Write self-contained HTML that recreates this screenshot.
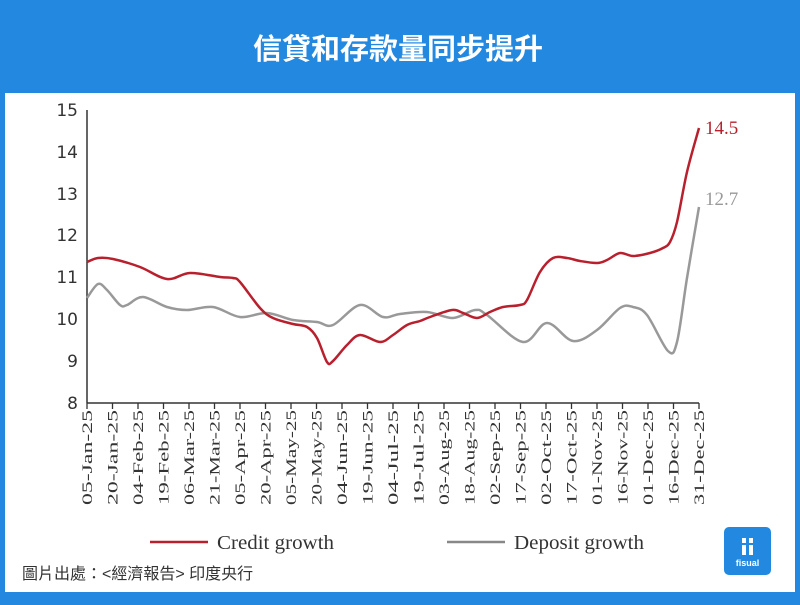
<!DOCTYPE html><html><head><meta charset="utf-8"><style>
body{margin:0;width:800px;height:600px;background:#2288e0;overflow:hidden;font-family:"Liberation Sans","Noto Sans CJK TC",sans-serif}
</style></head><body>
<svg width="800" height="600" xmlns="http://www.w3.org/2000/svg">
<rect width="800" height="600" fill="#2288e0"/>
<text x="398" y="59" text-anchor="middle" fill="#fff" font-size="29" font-weight="bold" font-family="Liberation Sans,Noto Sans CJK TC,sans-serif">信貸和存款量同步提升</text>
<rect x="5" y="93" width="790" height="499" fill="#fff"/>
<g stroke="#333" stroke-width="1.5" fill="none">
<line x1="87" y1="110" x2="87" y2="403"/>
<line x1="87" y1="403" x2="699" y2="403"/>
</g>
<g font-family="DejaVu Sans,sans-serif" font-size="17" fill="#333" text-anchor="end">
<text x="78" y="116">15</text><text x="78" y="158">14</text><text x="78" y="200">13</text><text x="78" y="241">12</text><text x="78" y="283">11</text><text x="78" y="325">10</text><text x="78" y="367">9</text><text x="78" y="409">8</text>
</g>
<g id="ticks" stroke="#333" stroke-width="1.3"></g>
<g id="labs" font-family="Liberation Serif,serif" font-size="15" fill="#333"></g>
<path id="dep" fill="none" stroke="#999" stroke-width="2.5" stroke-linejoin="round"/>
<path id="cre" fill="none" stroke="#b8202e" stroke-width="2.5" stroke-linejoin="round"/>
<text x="705" y="134" font-family="Liberation Serif,serif" font-size="19" fill="#b8202e">14.5</text>
<text x="705" y="205" font-family="Liberation Serif,serif" font-size="19" fill="#999">12.7</text>
<line x1="150" y1="542" x2="208" y2="542" stroke="#b8202e" stroke-width="2.5"/>
<text x="217" y="549" font-family="Liberation Serif,serif" font-size="20" fill="#333" textLength="117" lengthAdjust="spacingAndGlyphs">Credit growth</text>
<line x1="447" y1="542" x2="505" y2="542" stroke="#888" stroke-width="2.5"/>
<text x="514" y="549" font-family="Liberation Serif,serif" font-size="20" fill="#333" textLength="130" lengthAdjust="spacingAndGlyphs">Deposit growth</text>
<text x="22" y="579" font-size="16" fill="#333">圖片出處：&lt;經濟報告&gt; 印度央行</text>
<rect x="724" y="527" width="47" height="48" rx="5" fill="#2288e0"/>
<rect x="742" y="538" width="4" height="5" fill="#fff"/><rect x="749" y="538" width="4" height="5" fill="#fff"/>
<rect x="742" y="545" width="4" height="10" fill="#fff"/><rect x="749" y="545" width="4" height="10" fill="#fff"/>
<text x="747.5" y="566" text-anchor="middle" font-size="9" font-weight="bold" fill="#fff">fisual</text>
</svg>
<script>
var L=["05-Jan-25","20-Jan-25","04-Feb-25","19-Feb-25","06-Mar-25","21-Mar-25","05-Apr-25","20-Apr-25","05-May-25","20-May-25","04-Jun-25","19-Jun-25","04-Jul-25","19-Jul-25","03-Aug-25","18-Aug-25","02-Sep-25","17-Sep-25","02-Oct-25","17-Oct-25","01-Nov-25","16-Nov-25","01-Dec-25","16-Dec-25","31-Dec-25"];
var ns="http://www.w3.org/2000/svg",t=document.getElementById("ticks"),g=document.getElementById("labs");
L.forEach(function(s,i){var x=87+i*25.5;
var l=document.createElementNS(ns,"line");l.setAttribute("x1",x);l.setAttribute("x2",x);l.setAttribute("y1",403);l.setAttribute("y2",409);t.appendChild(l);
var e=document.createElementNS(ns,"text");e.setAttribute("transform","translate("+(x+5)+",410) rotate(-90)");e.setAttribute("text-anchor","end");e.setAttribute("textLength","95");e.setAttribute("lengthAdjust","spacingAndGlyphs");e.textContent=s;g.appendChild(e);});
function sm(s){var p=s.trim().split(/\s+/).map(function(q){return q.split(",").map(Number)});
var d="M"+p[0][0]+","+p[0][1];for(var i=0;i<p.length-1;i++){var a=p[i-1]||p[i],b=p[i],c=p[i+1],e=p[i+2]||c;
d+=" C"+(b[0]+(c[0]-a[0])/6)+","+(b[1]+(c[1]-a[1])/6)+" "+(c[0]-(e[0]-b[0])/6)+","+(c[1]-(e[1]-b[1])/6)+" "+c[0]+","+c[1];}return d;}
document.getElementById("dep").setAttribute("d",sm("87,298 98,284 107,290 120,305 127,305 143,297 167,307 187,310 213,307 240,317 267,313 293,320 317,322 333,325 360,305 383,317 400,314 427,312 453,318 475,310 487,315 523,342 547,323 573,341 597,330 620,308 633,307 647,315 668,351 677,342 687,278 699,207"));
document.getElementById("cre").setAttribute("d",sm("87,262 98,258 113,259 140,267 167,279 190,273 220,277 233,278 240,282 260,308 273,318 293,324 307,327 317,338 327,362 333,361 347,345 360,335 380,342 393,335 407,325 420,321 430,317 452,310 463,313 477,318 490,312 503,307 520,305 527,300 540,272 553,258 567,258 580,261 597,263 607,260 620,253 633,256 650,253 663,248 670,242 677,222 687,172 699,128"));
</script>
</body></html>
